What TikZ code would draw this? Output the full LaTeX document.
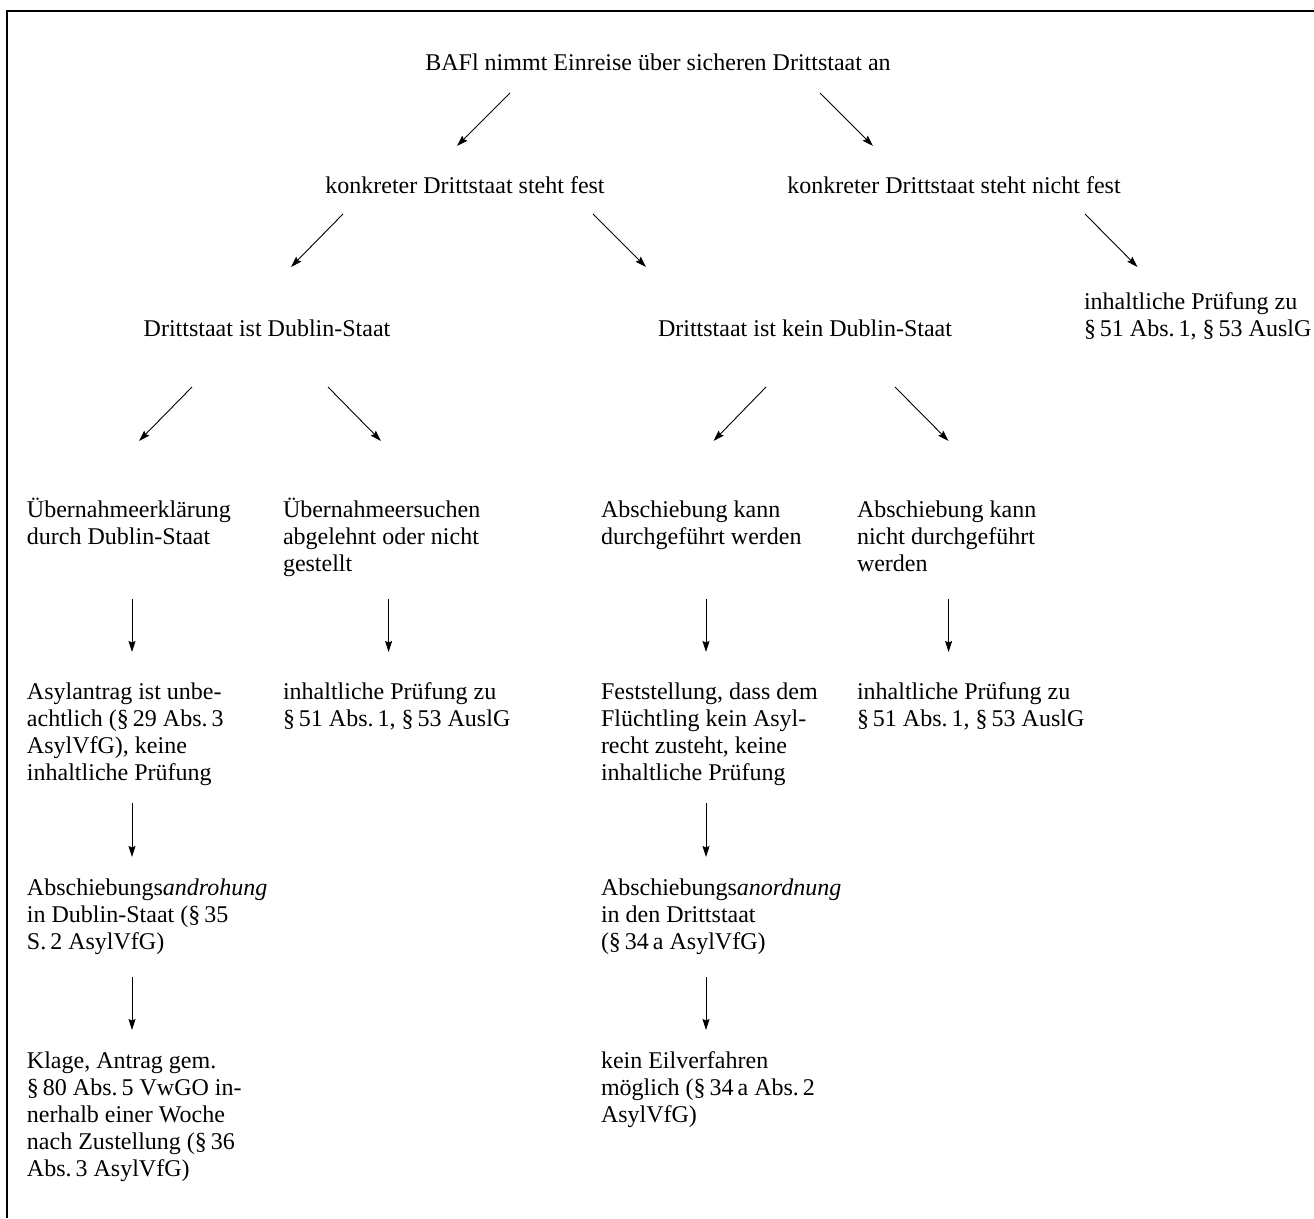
\documentclass[tikz,border=0pt]{standalone}
\usepackage{fontspec}
\setmainfont{Liberation Serif}
\usetikzlibrary{arrows.meta}
\newcommand{\mlines}[1]{\begin{tabular}[t]{@{}l@{}}#1\end{tabular}}
\begin{document}
\begin{tikzpicture}[x=1pt,y=-1pt,
  txt/.style={inner sep=0pt, outer sep=0pt, font=\fontsize{24}{27}\selectfont},
  ctxt/.style={txt, anchor=base},
  ltxt/.style={txt, anchor=base west},
  arr/.style={line width=0.9pt, -{Stealth[length=11pt,width=7pt,inset=1.5pt]}},
  frame/.style={line width=1.3pt}]
\useasboundingbox (0,0) rectangle (1314,1218);
\draw[frame] (7,1218) -- (7,11) -- (1314,11);

% nodes
\node[ctxt] (root) at (658,70) {BAFl nimmt Einreise über sicheren Drittstaat an};
\node[ctxt] (fest) at (465,193) {konkreter Drittstaat steht fest};
\node[ctxt] (nfest) at (954,193) {konkreter Drittstaat steht nicht fest};
\node[ctxt] (dub) at (267,336) {Drittstaat ist Dublin-Staat};
\node[ctxt] (kdub) at (805,336) {Drittstaat ist kein Dublin-Staat};
\node[ltxt] (ipr0) at (1084,309) {\mlines{inhaltliche Prüfung zu\\§\,51 Abs.\,1, §\,53 AuslG}};

\node[ltxt] (ueb) at (27,517) {\mlines{Übernahmeerklärung\\durch Dublin-Staat}};
\node[ltxt] (ues) at (283,517) {\mlines{Übernahmeersuchen\\abgelehnt oder nicht\\gestellt}};
\node[ltxt] (ak) at (601,517) {\mlines{Abschiebung kann\\durchgeführt werden}};
\node[ltxt] (akn) at (857,517) {\mlines{Abschiebung kann\\nicht durchgeführt\\werden}};

\node[ltxt] (asyl) at (27,699) {\mlines{Asylantrag ist unbe-\\achtlich (§\,29 Abs.\,3\\AsylVfG), keine\\inhaltliche Prüfung}};
\node[ltxt] (ipr1) at (283,699) {\mlines{inhaltliche Prüfung zu\\§\,51 Abs.\,1, §\,53 AuslG}};
\node[ltxt] (fst) at (601,699) {\mlines{Feststellung, dass dem\\Flüchtling kein Asyl-\\recht zusteht, keine\\inhaltliche Prüfung}};
\node[ltxt] (ipr2) at (857,699) {\mlines{inhaltliche Prüfung zu\\§\,51 Abs.\,1, §\,53 AuslG}};

\node[ltxt] (andr) at (27,895) {\mlines{Abschiebungs\textit{androhung}\\in Dublin-Staat (§\,35\\S.\,2 AsylVfG)}};
\node[ltxt] (anord) at (601,895) {\mlines{Abschiebungs\textit{anordnung}\\in den Drittstaat\\(§\,34\,a AsylVfG)}};

\node[ltxt] (klage) at (27,1068) {\mlines{Klage, Antrag gem.\\§\,80 Abs.\,5 VwGO in-\\nerhalb einer Woche\\nach Zustellung (§\,36\\Abs.\,3 AsylVfG)}};
\node[ltxt] (eil) at (601,1068) {\mlines{kein Eilverfahren\\möglich (§\,34\,a Abs.\,2\\AsylVfG)}};

% diagonal connectors
\draw[arr] ([shift={(-148,23)}]root.base) -- ([shift={(-8,-47)}]fest.base);
\draw[arr] ([shift={(162,23)}]root.base) -- ([shift={(-81,-47)}]nfest.base);
\draw[arr] ([shift={(-122,21)}]fest.base) -- ([shift={(24,-69)}]dub.base);
\draw[arr] ([shift={(128,21)}]fest.base) -- ([shift={(-159,-69)}]kdub.base);
\draw[arr] ([shift={(131,21)}]nfest.base) -- ([shift={(53.5,-42)}]ipr0.base west);
\draw[arr] ([shift={(-75,51)}]dub.base) -- ([shift={(112,-76)}]ueb.base west);
\draw[arr] ([shift={(61,51)}]dub.base) -- ([shift={(98,-76)}]ues.base west);
\draw[arr] ([shift={(-39,51)}]kdub.base) -- ([shift={(112.5,-76)}]ak.base west);
\draw[arr] ([shift={(90,51)}]kdub.base) -- ([shift={(91.5,-76)}]akn.base west);

% vertical connectors
\draw[arr] ([shift={(105,82)}]ueb.base west) -- ([shift={(105,-47)}]asyl.base west);
\draw[arr] ([shift={(105.6,82)}]ues.base west) -- ([shift={(105.6,-47)}]ipr1.base west);
\draw[arr] ([shift={(105,82)}]ak.base west) -- ([shift={(105,-47)}]fst.base west);
\draw[arr] ([shift={(91.6,82)}]akn.base west) -- ([shift={(91.6,-47)}]ipr2.base west);
\draw[arr] ([shift={(105,104)}]asyl.base west) -- ([shift={(105,-38)}]andr.base west);
\draw[arr] ([shift={(105,104)}]fst.base west) -- ([shift={(105,-38)}]anord.base west);
\draw[arr] ([shift={(105,82)}]andr.base west) -- ([shift={(105,-38)}]klage.base west);
\draw[arr] ([shift={(105,82)}]anord.base west) -- ([shift={(105,-38)}]eil.base west);
\end{tikzpicture}
\end{document}
